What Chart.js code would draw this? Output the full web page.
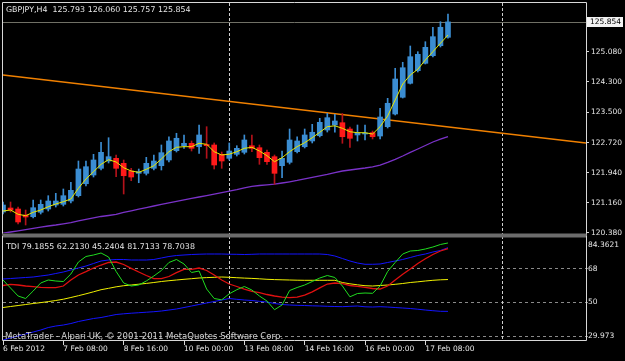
<!DOCTYPE html>
<html>
<head>
<meta charset="utf-8">
<title>GBPJPY,H4</title>
<script src="https://cdn.jsdelivr.net/npm/chart.js@4.4.0/dist/chart.umd.min.js"></script>
<style>
	html, body { margin: 0; padding: 0; background: #000; }
	#wrap { position: relative; width: 625px; height: 361px; background: #000; overflow: hidden; }
	#priceChart { position: absolute; left: 0; top: 0; }
	#tdiChart { position: absolute; left: 0; top: 236px; }
</style>
</head>
<body>
<div id="wrap">
	<canvas id="priceChart" width="625" height="236"></canvas>
	<canvas id="tdiChart" width="625" height="125"></canvas>
</div>
<script>
var symbolTitle = "GBPJPY,H4";
var lastOhlc = [125.793, 126.060, 125.757, 125.854];

// H4 candles, one per bar index
var openPrices = [120.916, 121.020, 120.994, 120.838, 120.794, 120.909, 120.994, 121.098, 121.116, 121.202,
	121.340, 121.651, 121.877, 122.051, 122.241, 122.311, 122.181, 121.981, 121.921, 121.921,
	122.051, 122.119, 122.267, 122.509, 122.638, 122.701, 122.612, 122.670, 122.657, 122.415,
	122.311, 122.415, 122.467, 122.638, 122.587, 122.467, 122.353, 122.119, 122.207, 122.483,
	122.612, 122.761, 122.898, 123.046, 123.176, 123.236, 123.072, 122.917, 122.942, 122.976,
	122.890, 123.132, 123.462, 123.896, 124.259, 124.587, 124.779, 124.976, 125.236, 125.454];
var highPrices = [121.176, 121.176, 121.046, 120.968, 121.228, 121.228, 121.340, 121.402, 121.514, 121.688,
	122.241, 122.241, 122.415, 122.727, 122.846, 122.397, 122.267, 122.051, 122.033, 122.337,
	122.397, 122.657, 122.872, 122.961, 122.917, 122.761, 123.176, 123.132, 122.709, 122.475,
	122.709, 122.638, 122.917, 122.917, 122.657, 122.527, 122.397, 122.501, 123.072, 122.872,
	123.072, 123.194, 123.350, 123.480, 123.454, 123.475, 123.124, 123.176, 123.176, 123.020,
	123.610, 123.869, 124.649, 124.805, 125.228, 125.080, 125.340, 125.714, 125.859, 126.060];
var lowPrices = [120.864, 120.916, 120.605, 120.579, 120.761, 120.864, 120.942, 121.046, 121.072, 121.150,
	121.306, 121.592, 121.825, 122.007, 122.189, 121.833, 121.384, 121.729, 121.677, 121.877,
	122.007, 122.007, 122.215, 122.475, 122.571, 122.501, 122.441, 122.311, 122.033, 122.051,
	122.267, 122.371, 122.423, 122.483, 122.155, 122.155, 121.636, 121.807, 122.163, 122.449,
	122.579, 122.709, 122.865, 122.994, 122.987, 122.701, 122.597, 122.761, 122.787, 122.813,
	122.813, 123.098, 123.436, 123.877, 124.241, 124.553, 124.761, 124.942, 125.202, 125.430];
var closePrices = [121.098, 120.968, 120.657, 120.787, 121.028, 121.116, 121.202, 121.202, 121.340, 121.480,
	122.033, 122.093, 122.267, 122.467, 122.353, 122.051, 121.859, 121.825, 121.963, 122.181,
	122.241, 122.457, 122.761, 122.831, 122.701, 122.571, 122.917, 122.640, 122.137, 122.241,
	122.501, 122.571, 122.787, 122.571, 122.327, 122.223, 121.921, 122.311, 122.787, 122.761,
	122.917, 122.987, 123.246, 123.366, 123.280, 122.872, 122.831, 122.976, 122.968, 122.872,
	123.384, 123.740, 124.371, 124.664, 124.950, 125.012, 125.194, 125.470, 125.714, 125.854];

// moving averages on the price pane
var fastMa = [120.942, 120.968, 120.857, 120.820, 120.909, 120.968, 121.054, 121.124, 121.184, 121.254,
	121.532, 121.774, 121.963, 122.155, 122.275, 122.215, 122.067, 121.981, 121.947, 122.025,
	122.119, 122.293, 122.483, 122.597, 122.613, 122.613, 122.701, 122.675, 122.483, 122.397,
	122.418, 122.483, 122.571, 122.597, 122.501, 122.379, 122.223, 122.327, 122.483, 122.613,
	122.716, 122.846, 122.987, 123.132, 123.155, 123.090, 123.002, 122.976, 122.976, 122.942,
	123.132, 123.410, 123.826, 124.241, 124.475, 124.623, 124.865, 125.080, 125.298, 125.514];
var slowMa = [120.366, 120.397, 120.428, 120.459, 120.493, 120.522, 120.553, 120.579, 120.610, 120.641,
	120.683, 120.722, 120.761, 120.800, 120.826, 120.854, 120.906, 120.948, 120.989, 121.033,
	121.072, 121.114, 121.155, 121.194, 121.233, 121.270, 121.306, 121.342, 121.379, 121.420,
	121.459, 121.498, 121.542, 121.584, 121.605, 121.620, 121.639, 121.670, 121.701, 121.735,
	121.774, 121.815, 121.852, 121.893, 121.942, 121.981, 122.007, 122.033, 122.059, 122.090,
	122.137, 122.207, 122.285, 122.371, 122.467, 122.553, 122.644, 122.735, 122.807, 122.877];

var trendBars = [0, 77.3];
var trendPrices = [124.475, 122.709];
var priceTicks = [120.380, 121.160, 121.940, 122.720, 123.500, 124.300, 125.080];
var separatorBars = [30, 66.1];
var timeTickBars = [0, 8, 16, 24, 32, 40, 48, 56];
var timeTickLabels = ["6 Feb 2012", "7 Feb 08:00", "8 Feb 16:00", "10 Feb 00:00", "13 Feb 08:00", "14 Feb 16:00", "16 Feb 00:00", "17 Feb 08:00"];

// TDI sub window
var tdiUpper = [62.50, 62.76, 63.03, 63.30, 63.56, 64.10, 64.63, 65.43, 66.23, 67.30,
	68.36, 69.43, 70.76, 72.10, 72.63, 72.90, 72.90, 72.63, 72.63, 72.63,
	72.90, 73.70, 74.50, 75.03, 75.30, 75.56, 75.72, 75.83, 75.83, 75.83,
	75.72, 75.67, 75.56, 75.67, 75.83, 75.83, 75.83, 75.83, 75.83, 75.83,
	75.83, 75.83, 75.83, 75.56, 74.76, 73.43, 72.10, 71.03, 70.34, 70.34,
	70.50, 71.30, 72.10, 72.90, 73.96, 75.03, 75.83, 76.90, 77.70, 79.19];
var tdiMiddle = [47.29, 47.83, 48.36, 48.89, 49.43, 49.91, 50.44, 51.03, 51.72, 52.63,
	53.59, 54.60, 55.67, 56.79, 57.53, 58.33, 58.92, 59.30, 59.72, 60.15,
	60.63, 61.16, 61.59, 61.96, 62.34, 62.66, 63.03, 63.24, 63.40, 63.56,
	63.40, 63.19, 62.98, 62.82, 62.60, 62.34, 62.18, 62.07, 61.96, 61.86,
	61.80, 61.80, 61.80, 61.80, 61.80, 60.63, 59.94, 59.40, 58.92, 58.76,
	59.03, 59.30, 59.67, 60.10, 60.63, 61.00, 61.43, 61.80, 62.07, 62.21];
var tdiLower = [29.96, 31.03, 32.10, 33.16, 34.23, 35.30, 36.63, 37.43, 37.96, 38.76,
	39.83, 40.63, 41.43, 41.96, 42.76, 43.56, 43.94, 44.26, 44.52, 44.79,
	45.06, 45.43, 45.96, 46.50, 47.29, 48.10, 48.90, 49.70, 50.50, 51.30,
	52.10, 51.67, 51.30, 51.03, 50.60, 50.23, 49.43, 48.90, 48.63, 48.47,
	48.36, 48.20, 48.10, 47.94, 47.83, 47.73, 47.94, 48.10, 47.67, 47.56,
	47.73, 47.56, 47.29, 47.03, 46.76, 46.39, 45.96, 45.59, 45.27, 45.24];
var tdiPrice = [61.96, 57.70, 53.43, 52.10, 56.10, 60.36, 61.96, 61.43, 61.16, 65.16,
	71.56, 74.50, 75.30, 76.36, 74.23, 66.50, 60.36, 58.76, 59.30, 61.43,
	64.10, 67.03, 71.30, 72.90, 70.50, 65.96, 66.76, 57.16, 52.10, 51.40,
	54.60, 56.79, 58.50, 56.63, 53.43, 50.76, 46.12, 48.63, 56.36, 57.96,
	59.30, 61.16, 63.03, 64.36, 63.30, 58.76, 53.00, 54.76, 55.03, 54.87,
	58.76, 66.50, 71.30, 75.83, 77.43, 77.70, 78.50, 79.56, 80.90, 81.71];
var tdiSignal = [59.03, 59.67, 59.30, 58.76, 58.39, 58.07, 57.86, 57.86, 58.76, 61.96,
	64.63, 66.39, 68.36, 69.96, 71.30, 71.56, 70.23, 68.20, 66.23, 64.36,
	62.66, 62.66, 63.83, 65.86, 67.67, 67.67, 68.36, 67.03, 64.63, 61.96,
	59.83, 58.50, 57.16, 55.94, 55.24, 54.23, 53.43, 52.79, 52.52, 52.79,
	53.96, 55.67, 57.80, 59.83, 60.36, 59.99, 59.03, 58.60, 58.07, 57.43,
	57.16, 58.76, 61.96, 65.05, 67.83, 70.76, 73.27, 75.56, 77.43, 78.70];
var tdiLevels = [32, 50, 68];
var tdiHeader = [79.1855, 62.2130, 45.2404, 81.7133, 78.7038];
var tdiRange = [29.973, 84.3621];
var copyrightText = "MetaTrader - Alpari UK, \u00a9 2001-2011 MetaQuotes Software Corp.";

var color = {
	bull: "#3b8dd2",
	bear: "#ff1a1a",
	bearWick: "#b3121a",
	fast: "#e8e800",
	slow: "#7a32c8",
	trend: "#f08000",
	text: "#e6e6e6",
	frame: "#d8d8d8",
	tdiGreen: "#20dc20",
	tdiRed: "#e01010",
	tdiYellow: "#f0f000",
	tdiBlue: "#1414ff"
};
var fontName = "DejaVu Sans";
var fontSize = 7.5;

Chart.defaults.font.family = fontName;
Chart.defaults.font.size = fontSize;
Chart.defaults.color = color.text;

function points(values) {
	return values.map(function (v, i) {
		return { x: i, y: v };
	});
}

var bodyData = [], wickData = [], bodyColors = [], wickColors = [];
for (var i = 0; i < openPrices.length; i++) {
	var up = closePrices[i] >= openPrices[i];
	bodyData.push({ x: i, y: [openPrices[i], closePrices[i]] });
	wickData.push({ x: i, y: [lowPrices[i], highPrices[i]] });
	bodyColors.push(up ? color.bull : color.bear);
	wickColors.push(up ? color.bull : color.bearWick);
}

function drawFrameText(ctx, text, x, y, fill, size) {
	ctx.fillStyle = fill || color.text;
	ctx.font = (size || fontSize) + "px '" + fontName + "'";
	ctx.textAlign = "left";
	ctx.textBaseline = "middle";
	ctx.fillText(text, x, y);
}

function drawSeparators(chart, top, bottom) {
	var ctx = chart.ctx;
	var xs = chart.scales.x;
	ctx.save();
	ctx.strokeStyle = "#cfcfcf";
	ctx.lineWidth = 1;
	ctx.setLineDash([3, 2]);
	separatorBars.forEach(function (b) {
		var px = Math.round(xs.getPixelForValue(b)) + 0.5;
		ctx.beginPath();
		ctx.moveTo(px, top);
		ctx.lineTo(px, bottom);
		ctx.stroke();
	});
	ctx.restore();
}

var pricePanePlugin = {
	id: "pricePane",
	beforeDatasetsDraw: function (chart) {
		var ctx = chart.ctx;
		var area = chart.chartArea;
		var by = Math.round(chart.scales.y.getPixelForValue(lastOhlc[3])) + 0.5;
		ctx.save();
		ctx.strokeStyle = "#707066";
		ctx.lineWidth = 1;
		ctx.beginPath();
		ctx.moveTo(area.left, by);
		ctx.lineTo(area.right, by);
		ctx.stroke();
		ctx.restore();
		drawSeparators(chart, area.top, chart.height);
	},
	afterDraw: function (chart) {
		var ctx = chart.ctx;
		var area = chart.chartArea;
		ctx.save();
		// pane frame
		ctx.strokeStyle = color.frame;
		ctx.lineWidth = 1;
		ctx.beginPath();
		ctx.moveTo(2.5, chart.height);
		ctx.lineTo(2.5, 2.5);
		ctx.lineTo(area.right + 0.5, 2.5);
		ctx.lineTo(area.right + 0.5, chart.height);
		ctx.stroke();
		ctx.fillStyle = "#6c6c6c";
		ctx.fillRect(2, 233.5, area.right - 1.5, chart.height - 233.5);

		drawFrameText(ctx, symbolTitle + "  " + lastOhlc.map(function (v) {
			return v.toFixed(3);
		}).join(" "), 6, 10, null, 7.9);

		// bid price label
		var by = Math.round(chart.scales.y.getPixelForValue(lastOhlc[3]));
		ctx.fillStyle = "#f2f2f2";
		ctx.fillRect(area.right + 1, by - 5, 36, 10);
		drawFrameText(ctx, lastOhlc[3].toFixed(3), area.right + 4, by + 0.5, "#000000");
		ctx.restore();
	}
};

var tdiPanePlugin = {
	id: "tdiPane",
	beforeDatasetsDraw: function (chart) {
		drawSeparators(chart, 0, chart.chartArea.bottom);
	},
	afterDraw: function (chart) {
		var ctx = chart.ctx;
		var area = chart.chartArea;
		ctx.save();
		ctx.fillStyle = "#6c6c6c";
		ctx.fillRect(2, 0, area.right - 1.5, 1.5);
		ctx.strokeStyle = color.frame;
		ctx.lineWidth = 1;
		ctx.beginPath();
		ctx.moveTo(2.5, 0);
		ctx.lineTo(2.5, area.bottom + 0.5);
		ctx.lineTo(area.right + 0.5, area.bottom + 0.5);
		ctx.lineTo(area.right + 0.5, 0);
		ctx.stroke();

		drawFrameText(ctx, "TDI " + tdiHeader.map(function (v) {
			return v.toFixed(4);
		}).join(" "), 6, 10.5, null, 7.9);
		drawFrameText(ctx, String(tdiRange[1]), area.right + 2, 9);
		drawFrameText(ctx, tdiRange[0].toFixed(3), area.right + 2, area.bottom - 4);
		drawFrameText(ctx, copyrightText, 5, area.bottom - 3.5, "#d2d2d2", 8.5);
		ctx.restore();
	}
};

var priceChart = new Chart(document.getElementById("priceChart").getContext("2d"), {
	type: "bar",
	data: {
		datasets: [{
			type: "line",
			data: points(fastMa),
			borderColor: color.fast,
			borderWidth: 1,
			pointRadius: 0,
			tension: 0,
			order: 0
		}, {
			data: bodyData,
			backgroundColor: bodyColors,
			barThickness: 5,
			minBarLength: 1,
			grouped: false,
			order: 1
		}, {
			data: wickData,
			backgroundColor: wickColors,
			barThickness: 1,
			grouped: false,
			order: 2
		}, {
			type: "line",
			data: trendBars.map(function (b, k) {
				return { x: b, y: trendPrices[k] };
			}),
			borderColor: color.trend,
			borderWidth: 1.4,
			pointRadius: 0,
			order: 3
		}, {
			type: "line",
			data: points(slowMa),
			borderColor: color.slow,
			borderWidth: 1.3,
			pointRadius: 0,
			tension: 0,
			order: 4
		}]
	},
	options: {
		responsive: false,
		animation: false,
		events: [],
		layout: { padding: { left: 3, top: 3, right: 0, bottom: 3 } },
		plugins: { legend: { display: false }, tooltip: { enabled: false } },
		scales: {
			x: {
				type: "linear",
				min: 0,
				max: 77.3,
				offset: false,
				display: false
			},
			y: {
				position: "right",
				min: 120.371,
				max: 126.345,
				afterFit: function (s) {
					s.width = 39;
					s.paddingTop = 0;
					s.paddingBottom = 0;
				},
				afterBuildTicks: function (s) {
					s.ticks = priceTicks.map(function (v) {
						return { value: v };
					});
				},
				ticks: {
					padding: 2,
					color: color.text,
					callback: function (v) {
						return Number(v).toFixed(3);
					}
				},
				grid: { drawOnChartArea: false, color: color.frame, tickLength: 3 },
				border: { display: false }
			}
		}
	},
	plugins: [pricePanePlugin]
});

var tdiChart = new Chart(document.getElementById("tdiChart").getContext("2d"), {
	type: "line",
	data: {
		datasets: [{
			data: points(tdiPrice),
			borderColor: color.tdiGreen,
			order: 0
		}, {
			data: points(tdiSignal),
			borderColor: color.tdiRed,
			borderWidth: 1.3,
			order: 1
		}, {
			data: points(tdiMiddle),
			borderColor: color.tdiYellow,
			order: 2
		}, {
			data: points(tdiUpper),
			borderColor: color.tdiBlue,
			order: 3
		}, {
			data: points(tdiLower),
			borderColor: color.tdiBlue,
			order: 4
		}]
	},
	options: {
		responsive: false,
		animation: false,
		events: [],
		layout: { padding: { left: 3, top: 2, right: 0, bottom: 0 } },
		elements: {
			line: { borderWidth: 1, tension: 0 },
			point: { radius: 0 }
		},
		plugins: { legend: { display: false }, tooltip: { enabled: false } },
		scales: {
			x: {
				type: "linear",
				min: 0,
				max: 77.3,
				offset: false,
				afterFit: function (s) {
					s.height = 21;
					s.paddingLeft = 0;
					s.paddingRight = 0;
				},
				afterBuildTicks: function (s) {
					s.ticks = timeTickBars.map(function (v) {
						return { value: v };
					});
				},
				ticks: {
					autoSkip: false,
					maxRotation: 0,
					align: "start",
					padding: 0,
					color: color.text,
					callback: function (v) {
						var k = timeTickBars.indexOf(v);
						return k < 0 ? "" : timeTickLabels[k];
					}
				},
				grid: { drawOnChartArea: false, color: color.frame, tickLength: 5 },
				border: { display: false }
			},
			y: {
				position: "right",
				min: tdiRange[0],
				max: tdiRange[1],
				afterFit: function (s) {
					s.width = 39;
					s.paddingTop = 0;
					s.paddingBottom = 0;
				},
				afterBuildTicks: function (s) {
					s.ticks = tdiLevels.map(function (v) {
						return { value: v };
					});
				},
				ticks: {
					padding: 0,
					color: color.text,
					callback: function (v) {
						return v === 32 ? "" : String(v);
					}
				},
				grid: { color: "#8a8a8a", tickColor: "#8a8a8a", tickLength: 2 },
				border: { display: false, dash: [3, 3] }
			}
		}
	},
	plugins: [tdiPanePlugin]
});
</script>
</body>
</html>
